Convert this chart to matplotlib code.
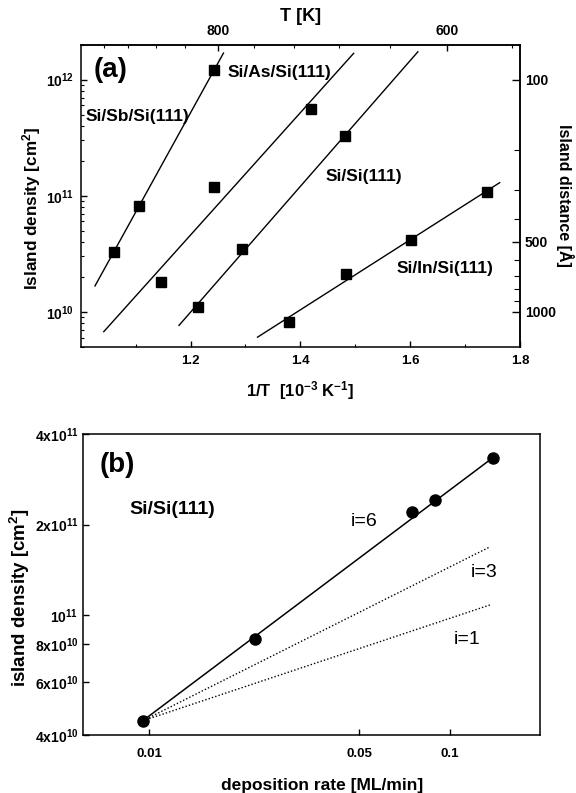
import numpy as np
import matplotlib
matplotlib.use("Agg")
import matplotlib.pyplot as plt
import matplotlib.ticker as mticker

plt.rcParams["font.family"] = ["Liberation Sans", "DejaVu Sans"]
plt.rcParams["font.weight"] = "bold"
plt.rcParams["axes.labelweight"] = "bold"
plt.rcParams["mathtext.fontset"] = "custom"
plt.rcParams["mathtext.rm"] = "Liberation Sans:bold"
plt.rcParams["mathtext.it"] = "Liberation Sans:bold"
plt.rcParams["mathtext.bf"] = "Liberation Sans:bold"
plt.rcParams["axes.linewidth"] = 1.1

# panel (a): island density vs 1/T  [1e-3 1/K]
sb_x = [1.061, 1.106, 1.2435]
sb_y = [3.3e10, 8.2e10, 1.22e12]
as_x = [1.146, 1.2435, 1.419]
as_y = [1.8e10, 1.2e11, 5.6e11]
si_x = [1.214, 1.293, 1.482]
si_y = [1.1e10, 3.5e10, 3.25e11]
in_x = [1.379, 1.484, 1.602, 1.740]
in_y = [8.2e9, 2.13e10, 4.18e10, 1.07e11]
# x span of each fitted line
sb_fit = [1.026, 1.260]
as_fit = [1.042, 1.497]
si_fit = [1.179, 1.614]
in_fit = [1.322, 1.763]

# panel (b): island density vs deposition rate
rate = [0.0095, 0.0224, 0.0751, 0.0891, 0.1388]
dens = [4.46e10, 8.32e10, 2.21e11, 2.41e11, 3.32e11]
model_i = ["i=6", "i=3", "i=1"]
model_exp = [0.75, 0.5, 0.333]
model_end = 0.136

fig = plt.figure(figsize=(5.76, 7.93), dpi=100)

# ---------- (a) ----------
ax = fig.add_axes([0.1401, 0.5628, 0.7627, 0.3808])
ax.set_yscale("log")
ax.set_xlim(1.0, 1.8)
ax.set_ylim(5e9, 2e12)

for xs, ys, span in [(sb_x, sb_y, sb_fit), (as_x, as_y, as_fit),
                     (si_x, si_y, si_fit), (in_x, in_y, in_fit)]:
    p = np.polyfit(xs, np.log10(ys), 1)
    xx = np.array(span)
    ax.plot(xx, 10 ** np.polyval(p, xx), color="black", lw=1.0)
    ax.plot(xs, ys, "s", color="black", ms=7)

ax.xaxis.set_major_locator(mticker.FixedLocator([1.2, 1.4, 1.6, 1.8]))
ax.xaxis.set_minor_locator(mticker.FixedLocator([1.1, 1.3, 1.5, 1.7]))
ax.xaxis.set_major_formatter(mticker.FormatStrFormatter("%.1f"))
ax.yaxis.set_major_locator(mticker.LogLocator(base=10))
ax.yaxis.set_minor_locator(mticker.LogLocator(base=10, subs=np.arange(2, 10)))
ax.yaxis.set_minor_formatter(mticker.NullFormatter())
ax.tick_params(which="both", direction="in")
ax.tick_params(which="major", length=4.5, width=1)
ax.tick_params(which="minor", length=2.5, width=0.8)
ax.tick_params(axis="x", labelsize=9.5, pad=6)
ax.tick_params(axis="y", labelsize=10, pad=5)

ax.set_xlabel("1/T  [10$^{-3}$ K$^{-1}$]", fontsize=12, labelpad=9)
ax.set_ylabel("Island density [cm$^{2}$]", fontsize=12.3, labelpad=2, y=0.46)

top = ax.secondary_xaxis("top", functions=(lambda x: 1000 / x, lambda t: 1000 / t))
top.xaxis.set_major_locator(mticker.FixedLocator([800, 600]))
top.xaxis.set_minor_locator(mticker.FixedLocator([960, 920, 880, 840, 760, 720, 680, 640, 560]))
top.xaxis.set_major_formatter(mticker.FormatStrFormatter("%d"))
top.xaxis.set_minor_formatter(mticker.NullFormatter())
top.tick_params(which="both", direction="in", labelsize=10, pad=5)
top.tick_params(which="major", length=4.5, width=1)
top.tick_params(which="minor", length=2.5, width=0.8)
top.set_xlabel("T [K]", fontsize=13, labelpad=2)

right = ax.secondary_yaxis("right", functions=(lambda n: 1e8 / np.sqrt(n),
                                                lambda d: 1e16 / d ** 2))
right.yaxis.set_major_locator(mticker.FixedLocator([100, 500, 1000]))
right.yaxis.set_minor_locator(mticker.FixedLocator([200, 300, 400, 600, 700, 800, 900]))
right.yaxis.set_major_formatter(mticker.FormatStrFormatter("%d"))
right.yaxis.set_minor_formatter(mticker.NullFormatter())
right.tick_params(which="both", direction="in", labelsize=10)
right.tick_params(which="major", length=6, width=1)
right.tick_params(which="minor", length=4, width=0.8)
right.set_ylabel("Island distance [Å]", fontsize=11.5, rotation=270, labelpad=13)

ax.text(1.055, 1.2e12, "(a)", fontsize=20, ha="center", va="center")
ax.text(1.267, 1.15e12, "Si/As/Si(111)", fontsize=12.5, va="center")
ax.text(1.008, 4.77e11, "Si/Sb/Si(111)", fontsize=12.5, va="center")
ax.text(1.445, 1.47e11, "Si/Si(111)", fontsize=12.5, va="center")
ax.text(1.576, 2.38e10, "Si/In/Si(111)", fontsize=12.5, va="center")

# ---------- (b) ----------
bx = fig.add_axes([0.1436, 0.0731, 0.7944, 0.3796])
bx.set_xscale("log")
bx.set_yscale("log")
bx.set_xlim(0.006, 0.2)
bx.set_ylim(4e10, 4e11)

x0, y0 = rate[0], dens[0]
for lab, k in zip(model_i, model_exp):
    xend = rate[-1] if k == model_exp[0] else model_end
    xx = np.array([x0, xend])
    yy = y0 * (xx / x0) ** k
    if k == model_exp[0]:
        bx.plot(xx, yy, color="black", lw=1.1)
    else:
        bx.plot(xx, yy, color="black", lw=1.0, ls=(0, (1, 1.5)))
bx.plot(rate, dens, "o", color="black", ms=8)

bx.xaxis.set_major_locator(mticker.FixedLocator([0.01, 0.05, 0.1]))
bx.xaxis.set_major_formatter(mticker.FixedFormatter(["0.01", "0.05", "0.1"]))
bx.xaxis.set_minor_locator(mticker.NullLocator())
bx.yaxis.set_major_locator(mticker.FixedLocator([4e10, 6e10, 8e10, 1e11, 2e11, 4e11]))
bx.yaxis.set_major_formatter(mticker.FixedFormatter(
    ["4x10$^{10}$", "6x10$^{10}$", "8x10$^{10}$", "10$^{11}$", "2x10$^{11}$", "4x10$^{11}$"]))
bx.yaxis.set_minor_locator(mticker.NullLocator())
bx.tick_params(which="major", direction="in", length=4, width=1)
bx.tick_params(axis="x", labelsize=9.5, pad=9)
bx.tick_params(axis="y", labelsize=10, pad=3)

bx.set_xlabel("deposition rate [ML/min]", fontsize=12.5, labelpad=13, x=0.523)
bx.set_ylabel("island density [cm$^{2}$]", fontsize=13.5, labelpad=2, y=0.457)

bx.text(0.00782, 3.16e11, "(b)", fontsize=20, ha="center", va="center")
bx.text(0.00858, 2.25e11, "Si/Si(111)", fontsize=14, va="center")
for lab, px, py in zip(model_i, [0.0468, 0.1175, 0.1031], [2.05e11, 1.39e11, 8.32e10]):
    bx.text(px, py, lab, fontsize=14, fontweight="normal", va="center")

fig.savefig("out.png", dpi=100)
